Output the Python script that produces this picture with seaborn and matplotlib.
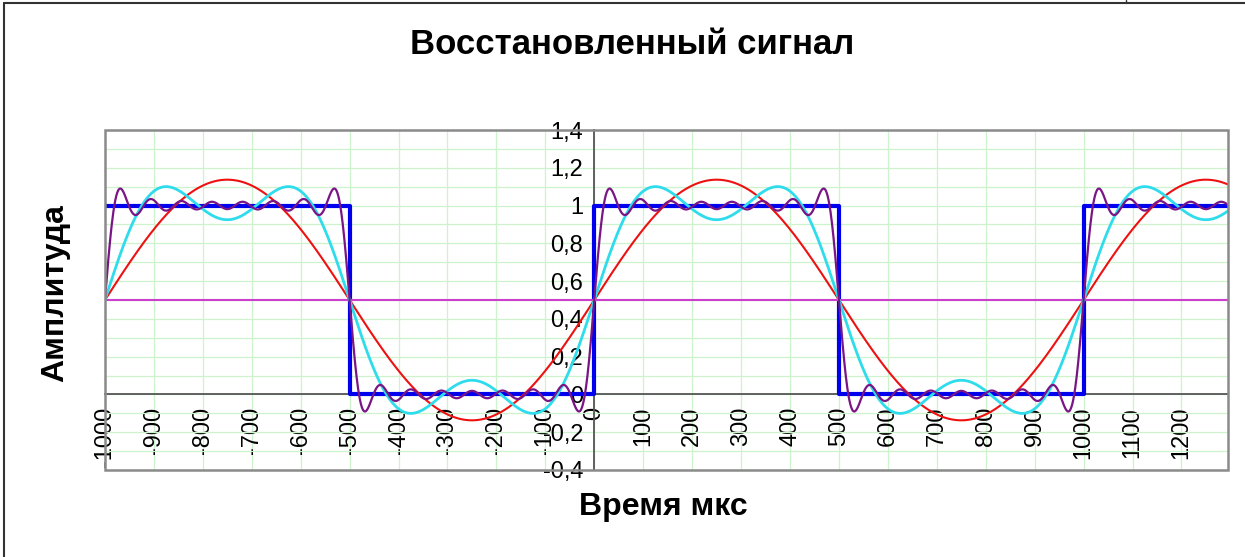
import numpy as np
import pandas as pd
import matplotlib
matplotlib.use('Agg')
import matplotlib.pyplot as plt
import seaborn as sns
from matplotlib.lines import Line2D
from matplotlib.patches import Rectangle

# исходный прямоугольный сигнал (точки перелома)
square_t = [-1000, -500, -500, 0, 0, 500, 500, 1000, 1000, 1295]
square_v = [1, 1, 0, 0, 1, 1, 0, 0, 1, 1]

# параметры ряда Фурье, оценённые по графику
period = 1000
dc_level = 0.5
harm_k = [1, 3, 5, 7, 9, 11, 13, 15]
harm_amp = [0.637, 0.212, 0.127, 0.091, 0.071, 0.058, 0.049, 0.042]

# сколько гармоник в каждой кривой
curves = [
    ('DC', 0, '#cc3fcc', 1.5),
    ('1', 1, '#ee1111', 1.5),
    ('1+3', 2, '#2fdcec', 2.0),
    ('1..15', 8, '#7a1585', 1.6),
]

x_ticks = list(range(-1000, 1300, 100))
y_ticks = [-0.4, -0.2, 0, 0.2, 0.4, 0.6, 0.8, 1, 1.2, 1.4]

t = np.arange(-1000, 1296, 1.0)


def partial_sum(n):
    y = np.full_like(t, dc_level)
    for k, a in zip(harm_k[:n], harm_amp[:n]):
        y = y + a * np.sin(2 * np.pi * k * t / period)
    return y


sns.set_style('white')
plt.rcParams['font.family'] = ['Liberation Sans', 'DejaVu Sans']

fig = plt.figure(figsize=(12.45, 5.57), dpi=100)
ax = fig.add_axes([0.0843, 0.1562, 0.902, 0.6104])

sq = pd.DataFrame({'t': square_t, 'v': square_v})
sns.lineplot(data=sq, x='t', y='v', ax=ax, color='#0000ee', lw=3,
             estimator=None, sort=False, zorder=3)
for name, n, col, lw in curves:
    df = pd.DataFrame({'t': t, 'v': partial_sum(n)})
    sns.lineplot(data=df, x='t', y='v', ax=ax, color=col, lw=lw,
                 estimator=None, sort=False, zorder=4)

ax.set_xlim(-1000, 1295)
ax.set_ylim(-0.4, 1.4)
ax.set_xlabel('')
ax.set_ylabel('')

# оси проходят через ноль, как в Excel
for s in ['top', 'right']:
    ax.spines[s].set_visible(False)
ax.spines['left'].set_position(('data', 0))
ax.spines['bottom'].set_position(('data', 0))
ax.spines['left'].set_color('#555555')
ax.spines['bottom'].set_color('#555555')
ax.spines['left'].set_linewidth(1.3)
ax.spines['bottom'].set_linewidth(1.3)
ax.tick_params(axis='both', which='major', direction='out', length=6,
               width=1.2, color='#555555', labelsize=17, labelcolor='black')
ax.tick_params(axis='y', which='minor', length=0)
ax.tick_params(axis='x', pad=3, labelrotation=90)
ax.tick_params(axis='y', pad=2)

ax.set_xticks(x_ticks)
ax.set_xticklabels([str(v) for v in x_ticks])
ax.set_yticks(y_ticks)
ax.set_yticklabels([f'{v:g}'.replace('.', ',') for v in y_ticks])
ax.set_yticks(np.arange(-0.4, 1.41, 0.1), minor=True)
for lab in ax.get_xticklabels():
    lab.set_rotation(90)
    lab.set_va('top')
    lab.set_ha('center')

ax.grid(True, which='both', color='#cdf3cd', lw=0.9)
ax.set_axisbelow(True)

ax.add_patch(Rectangle((0, 0), 1, 1, transform=ax.transAxes, fill=False,
                       ec='#8a8a8a', lw=1.8, zorder=5, clip_on=False))

fig.text(0.508, 1 - 45 / 557, 'Восстановленный сигнал', ha='center',
         va='center', fontsize=25, fontweight='bold', color='black')
fig.text(663 / 1245, 1 - 507 / 557, 'Время мкс', ha='center',
         va='center', fontsize=23, fontweight='bold', color='black')
fig.text(55 / 1245, 1 - 293 / 557, 'Амплитуда', ha='center',
         va='center', fontsize=23, fontweight='bold', rotation=90,
         color='black')

# рамка листа
fig.add_artist(Line2D([4 / 1245, 1], [1 - 3 / 557, 1 - 3 / 557],
                      color='#333333', lw=1.5))
fig.add_artist(Line2D([4 / 1245, 4 / 1245], [0, 1 - 3 / 557],
                      color='#333333', lw=1.5))
fig.add_artist(Line2D([1126 / 1245, 1126 / 1245], [1 - 3 / 557, 1],
                      color='#333333', lw=1.0))

fig.savefig('out.png', dpi=100)
